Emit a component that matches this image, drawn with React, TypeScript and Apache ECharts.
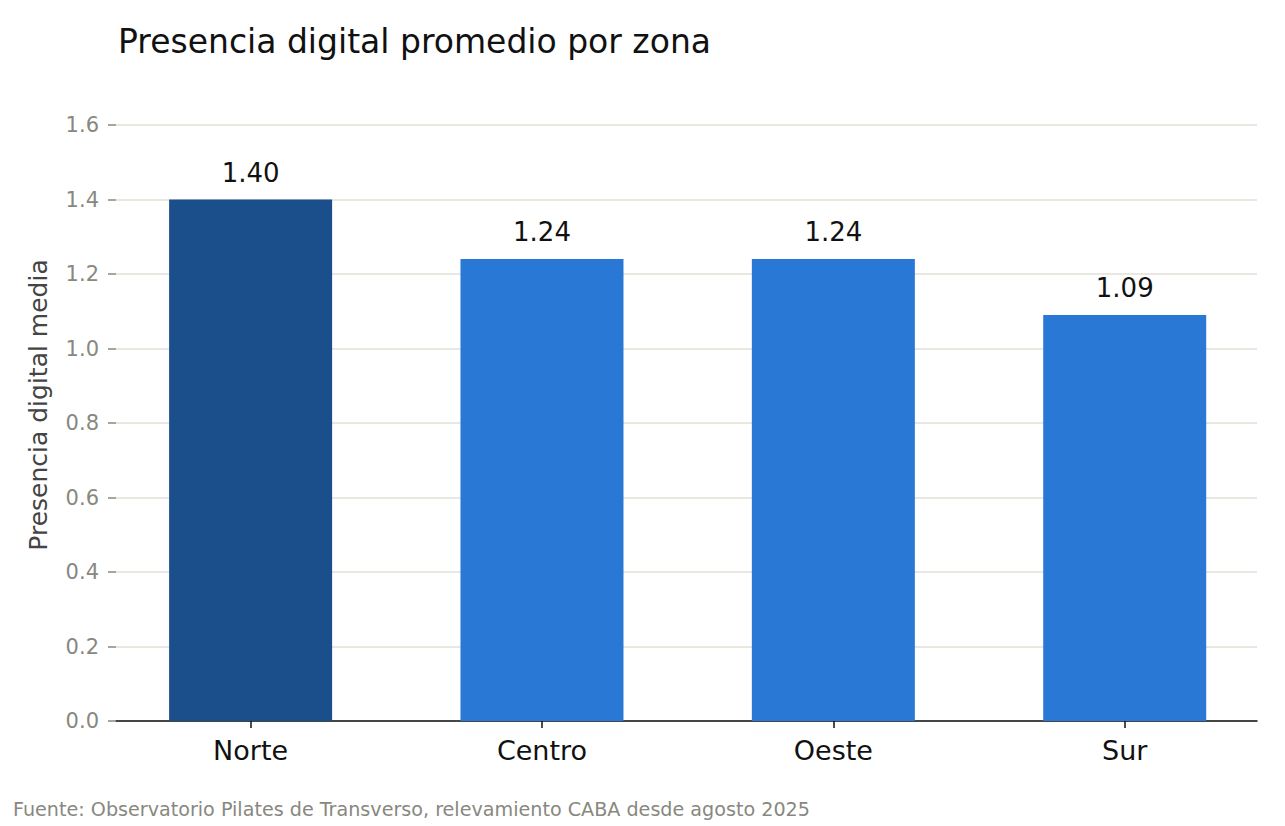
import { useEffect, useRef } from "react";
import * as echarts from "echarts";

const zonas = ["Norte", "Centro", "Oeste", "Sur"];
const presencia = [1.40, 1.24, 1.24, 1.09];
const colores = ["#1b4f8b", "#2978d6", "#2978d6", "#2978d6"];

const FONT = "DejaVu Sans";

export default function App() {
  const chartRef = useRef<HTMLDivElement>(null);

  useEffect(() => {
    if (!chartRef.current) return;
    const chart = echarts.init(chartRef.current, null, { renderer: "svg" });

    const option = {
      animation: false,
      backgroundColor: "#ffffff",
      textStyle: { fontFamily: FONT },
      title: {
        text: "Presencia digital promedio por zona",
        left: 113,
        top: 20,
        textStyle: { fontFamily: FONT, fontSize: 33, fontWeight: "normal", color: "#111111" },
      },
      grid: { left: 116, right: 28, top: 125, bottom: 105, containLabel: false },
      xAxis: {
        type: "value",
        min: -0.462,
        max: 3.454,
        splitLine: { show: false },
        axisLine: { show: true, lineStyle: { color: "#111111", width: 1.5 } },
        axisTick: {
          show: true,
          customValues: [0, 1, 2, 3],
          length: 7,
          lineStyle: { color: "#111111", width: 1.5 },
        },
        axisLabel: {
          customValues: [0, 1, 2, 3],
          formatter: (v: number) => zonas[Math.round(v)] ?? "",
          fontFamily: FONT,
          fontSize: 27,
          color: "#111111",
          margin: 16,
        },
      },
      yAxis: {
        type: "value",
        min: 0,
        max: 1.6,
        interval: 0.2,
        axisLine: { show: false, onZero: false },
        axisTick: { show: true, length: 8, lineStyle: { color: "#888880", width: 1.5 } },
        axisLabel: {
          formatter: (v: number) => v.toFixed(1),
          fontFamily: FONT,
          fontSize: 21,
          color: "#888880",
          margin: 17,
        },
        splitLine: { show: true, lineStyle: { color: "#e0e0d6", width: 1.5 } },
      },
      graphic: [
        {
          type: "text",
          x: 38,
          y: 405,
          rotation: Math.PI / 2,
          style: {
            text: "Presencia digital media",
            fontFamily: FONT,
            fontSize: 25,
            fill: "#444444",
            align: "center",
            verticalAlign: "middle",
          },
        },
        {
          type: "text",
          left: 13,
          top: 800,
          style: {
            text: "Fuente: Observatorio Pilates de Transverso, relevamiento CABA desde agosto 2025",
            fontFamily: FONT,
            fontSize: 19.15,
            fill: "#888880",
          },
        },
      ],
      series: [
        {
          type: "bar",
          barWidth: 163,
          data: presencia.map((v, i) => ({
            value: [i, v],
            itemStyle: { color: colores[i] },
          })),
          label: {
            show: true,
            position: "top",
            distance: 14,
            formatter: (p: any) => p.value[1].toFixed(2),
            fontFamily: FONT,
            fontSize: 26,
            color: "#111111",
          },
        },
      ],
    };

    chart.setOption(option);
    return () => chart.dispose();
  }, []);

  return (
    <div
      ref={chartRef}
      style={{ position: "fixed", left: 0, top: 0, width: 1285, height: 826 }}
    />
  );
}
